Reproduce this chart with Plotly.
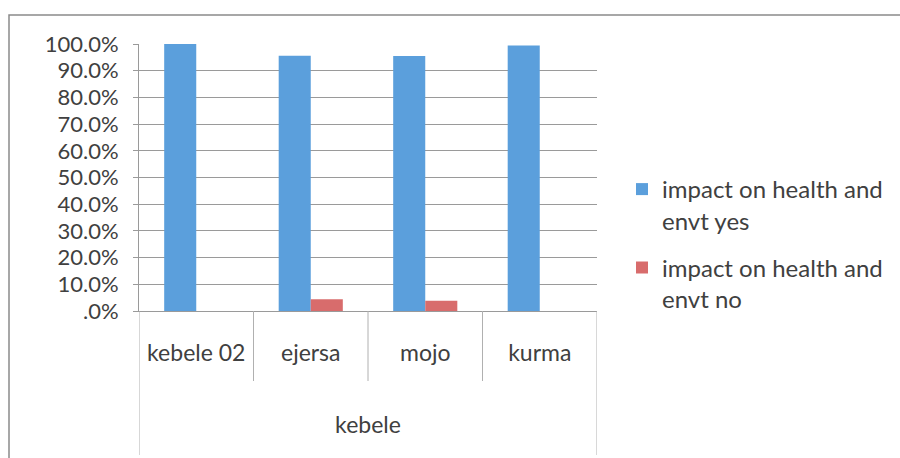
import plotly.graph_objects as go

categories = ["kebele 02", "ejersa", "mojo", "kurma"]
yes_values = [1.000, 0.956, 0.955, 0.994]
no_values = [0.000, 0.044, 0.038, 0.000]
series_names = ["impact on health and<br>envt yes", "impact on health and<br>envt no"]
y_tickvals = [i / 10 for i in range(11)]
y_ticktext = [".0%", "10.0%", "20.0%", "30.0%", "40.0%", "50.0%",
              "60.0%", "70.0%", "80.0%", "90.0%", "100.0%"]
axis_title = "kebele"

FONT = "Lato"
TXT = "#404040"
GRID = "#9a9a9a"
L, R, T, B = 139, 303, 44, 147
PW, PH = 900 - L - R, 458 - T - B

fig = go.Figure()
fig.add_trace(go.Bar(x=categories, y=yes_values, name=series_names[0],
                     marker=dict(color="#5b9fdc", line=dict(width=0)),
                     legendgroup="a"))
fig.add_trace(go.Bar(x=categories, y=no_values, name=series_names[1],
                     marker=dict(color="#d86c6c", line=dict(width=0)),
                     legendgroup="b"))

shapes = []
for xv in [0.5, 1.5, 2.5]:
    shapes.append(dict(type="line", xref="x", yref="paper", x0=xv, x1=xv,
                       y0=0, y1=-70 / PH, line=dict(color="#b0b0b0", width=1)))
for xv in [-0.5, 3.5]:
    shapes.append(dict(type="line", xref="x", yref="paper", x0=xv, x1=xv,
                       y0=0, y1=-144 / PH, line=dict(color="#b0b0b0", width=1)))
shapes.append(dict(type="rect", xref="paper", yref="paper",
                   x0=(9 - L) / PW, x1=(960 - L) / PW,
                   y0=-(480 - (T + PH)) / PH, y1=1 + (T - 15) / PH,
                   line=dict(color="#8a8a8a", width=1.5), fillcolor="rgba(0,0,0,0)",
                   layer="below"))

fig.update_layout(
    width=900, height=458,
    margin=dict(l=L, r=R, t=T, b=B, pad=0, autoexpand=False),
    paper_bgcolor="white", plot_bgcolor="white",
    font=dict(family=FONT, size=22, color=TXT),
    barmode="group", bargap=0.44, bargroupgap=0,
    showlegend=True,
    legend=dict(x=(622 - L) / PW, y=(311 - 167) / PH, xanchor="left", yanchor="top",
                font=dict(family=FONT, size=24, color=TXT),
                tracegroupgap=13, valign="top", bgcolor="rgba(0,0,0,0)",
                itemwidth=30),
    shapes=shapes,
    xaxis=dict(type="category", showline=True, linecolor=GRID, linewidth=1,
               ticks="", showgrid=False, ticklabelstandoff=21, automargin=False,
               tickfont=dict(family=FONT, size=23, color=TXT),
               title=dict(text=axis_title, standoff=52,
                          font=dict(family=FONT, size=23, color=TXT)),
               range=[-0.5, 3.5]),
    yaxis=dict(range=[0, 1], tickvals=y_tickvals, ticktext=y_ticktext,
               showline=True, linecolor=GRID, linewidth=1,
               ticks="outside", ticklen=5, tickcolor=GRID, automargin=False,
               showgrid=True, gridcolor=GRID, gridwidth=1,
               zeroline=False, ticklabelstandoff=10,
               tickfont=dict(family=FONT, size=22, color=TXT)),
)

fig.write_html("out.html",
               config={"displayModeBar": False},
               post_script="document.body.style.margin='0';document.body.style.overflow='hidden';")
